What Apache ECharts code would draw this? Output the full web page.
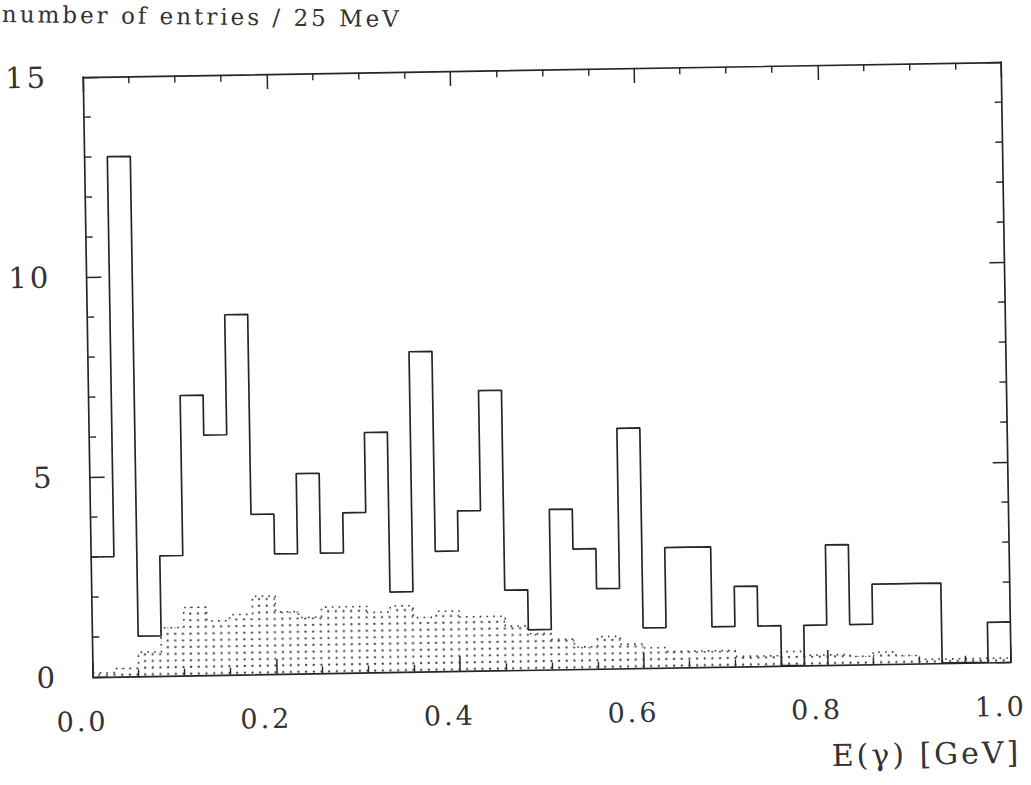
<!DOCTYPE html>
<html>
<head>
<meta charset="utf-8">
<script src="https://cdn.jsdelivr.net/npm/echarts@6/dist/echarts.min.js"></script>
<style>
  html, body { margin: 0; padding: 0; background: #fff; overflow: hidden; width: 1031px; height: 785px; }
  /* the whole plot sits slightly tilted on the page */
  #chart { position: absolute; left: 0; top: 0; width: 1100px; height: 850px;
           transform-origin: 0 0; transform: rotate(-0.94deg); }
  #chart text { letter-spacing: 3px; }
</style>
</head>
<body>
<div id="chart"></div>
<script>
// photon energy spectrum, 25 MeV bins from 0 to 1 GeV
const binWidth = 0.025;

// measured entries per bin
const signalCounts = [
  3, 13, 1, 3, 7, 6, 9, 4, 3, 5,
  3, 4, 6, 2, 8, 3, 4, 7, 2, 1,
  4, 3, 2, 6, 1, 3, 3, 1, 2, 1,
  0, 1, 3, 1, 2, 2, 2, 0, 0, 1
];

// expected background per bin (dotted histogram)
const backgroundLevel = [
  0.1, 0.2, 0.6, 1.2, 1.7, 1.35, 1.5, 1.95, 1.55, 1.4,
  1.65, 1.65, 1.5, 1.65, 1.35, 1.5, 1.35, 1.35, 1.1, 0.9,
  0.75, 0.55, 0.8, 0.6, 0.5, 0.4, 0.4, 0.4, 0.25, 0.25,
  0.35, 0.25, 0.25, 0.2, 0.3, 0.2, 0.1, 0.1, 0.1, 0.1
];

const xTickLabels = ['0.0', '0.2', '0.4', '0.6', '0.8', '1.0'];
const yTickLabels = ['0', '5', '10', '15'];
const yTitle = 'number of entries / 25 MeV';
const xTitle = 'E(\u03b3) [GeV]';

// left bin edges plus the closing edge, for a step outline
function stepPoints(values) {
  const pts = values.map((v, i) => [i * binWidth, v]);
  pts.push([values.length * binWidth, values[values.length - 1]]);
  return pts;
}

// dot raster used to shade the background histogram
function dotTile() {
  const c = document.createElement('canvas');
  c.width = 23; c.height = 20;
  const g = c.getContext('2d');
  g.fillStyle = '#3a3a3a';
  for (let i = 0; i < 3; i++) {
    for (let j = 0; j < 3; j++) {
      g.beginPath();
      g.arc(3.8 + i * 7.67, 3.3 + j * 6.67, 1.15, 0, Math.PI * 2);
      g.fill();
    }
  }
  return c.toDataURL();
}

const ink = '#262626';
const serif = '"DejaVu Serif", "Liberation Serif", serif';

function xAxisCfg(position, withLabels) {
  return {
    type: 'value', position: position, min: 0, max: 1, interval: 0.2,
    axisLine: { show: true, onZero: false, lineStyle: { color: ink, width: 1.7 } },
    axisTick: { show: true, inside: true, length: 15, lineStyle: { color: ink, width: 1.5 } },
    minorTick: { show: true, splitNumber: 4, length: 7, lineStyle: { color: ink, width: 1.4 } },
    splitLine: { show: false }, minorSplitLine: { show: false },
    axisLabel: {
      show: withLabels, margin: 31, color: '#333', fontFamily: serif, fontSize: 27,
      padding: [0, 22, 0, 0],
      formatter: v => xTickLabels[Math.round(v / 0.2)]
    }
  };
}

function yAxisCfg(position, withLabels) {
  return {
    type: 'value', position: position, min: 0, max: 15, interval: 5,
    axisLine: { show: true, onZero: false, lineStyle: { color: ink, width: 1.7 } },
    axisTick: { show: true, inside: true, length: 15, lineStyle: { color: ink, width: 1.5 } },
    minorTick: { show: true, splitNumber: 5, length: 7, lineStyle: { color: ink, width: 1.4 } },
    splitLine: { show: false }, minorSplitLine: { show: false },
    axisLabel: {
      show: withLabels, margin: 35, color: '#333', fontFamily: serif, fontSize: 29,
      formatter: v => yTickLabels[Math.round(v / 5)]
    }
  };
}

const chart = echarts.init(document.getElementById('chart'), null, { renderer: 'svg' });
chart.setOption({
  animation: false,
  backgroundColor: '#fff',
  grid: { left: 81.8, top: 78.4, width: 918.2, height: 600, containLabel: false, outerBoundsMode: 'none' },
  xAxis: [xAxisCfg('bottom', true), xAxisCfg('top', false)],
  yAxis: [yAxisCfg('left', true), yAxisCfg('right', false)],
  graphic: [
    {
      type: 'text', x: 1.7, y: 14, rotation: -0.029,
      style: { text: yTitle, fill: '#333', font: '23px ' + serif, align: 'left', verticalAlign: 'middle' }
    },
    {
      type: 'text', x: 914, y: 769,
      style: { text: xTitle, fill: '#333', font: '30px ' + serif, align: 'center', verticalAlign: 'middle' }
    }
  ],
  series: [
    {
      name: 'background', type: 'line', step: 'end', xAxisIndex: 0, yAxisIndex: 0,
      data: stepPoints(backgroundLevel), symbol: 'none', z: 2,
      lineStyle: { color: '#3a3a3a', width: 1.6, type: [1.6, 5.2] },
      areaStyle: { color: { image: dotTile(), repeat: 'repeat' }, opacity: 1 }
    },
    {
      name: 'data', type: 'line', step: 'end', xAxisIndex: 0, yAxisIndex: 0,
      data: stepPoints(signalCounts), symbol: 'none', z: 3,
      lineStyle: { color: ink, width: 1.7 }
    }
  ]
});
</script>
</body>
</html>
